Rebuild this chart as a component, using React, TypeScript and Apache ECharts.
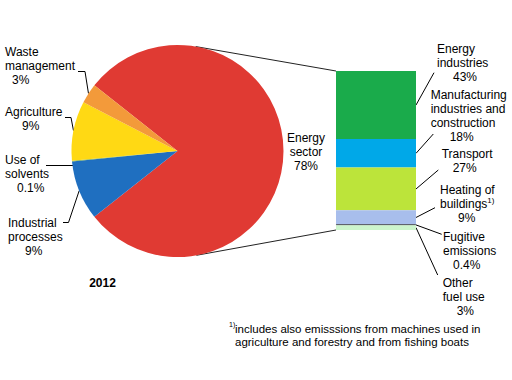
import React, { useEffect, useRef } from "react";
import * as echarts from "echarts";

// ---- Data ----
const pieNames = ["Energy sector", "Industrial processes", "Use of solvents", "Agriculture", "Waste management"];
const pieLabelLines = [["Energy", "sector"], ["Industrial", "processes"], ["Use of", "solvents"], ["Agriculture"], ["Waste", "management"]];
const pieValues = [78, 9, 0.1, 9, 3];
const pieValueLabels = ["78%", "9%", "0.1%", "9%", "3%"];
const pieColors = ["#E03A33", "#1F6FC0", "#6FA850", "#FFD914", "#F39A3A"];

const barNames = ["Energy industries", "Manufacturing industries and construction", "Transport", "Heating of buildings", "Fugitive emissions", "Other fuel use"];
const barLabelLines = [["Energy", "industries"], ["Manufacturing", "industries and", "construction"], ["Transport"], ["Heating of", "buildings"], ["Fugitive", "emissions"], ["Other", "fuel use"]];
const barValues = [43, 18, 27, 9, 0.4, 3];
const barValueLabels = ["43%", "18%", "27%", "9%", "0.4%", "3%"];
const barColors = ["#1AAB4B", "#00A8E8", "#BCE43A", "#A8BEEC", "#000000", "#CCF5CC"];

const yearLabel = "2012";
const footnoteMark = "1)";
const footnoteText = "includes also emisssions from machines used in\nagriculture and forestry and from fishing boats";

// ---- Layout ----
const FONT = '"Liberation Sans", Arial, sans-serif';
const PIE = { cx: 177.5, cy: 151, r: 106 };
const GRID = { left: 336, top: 71, width: 80, height: 159 };

const pieLabelLayout: any[] = [
  { x: 306, y: 152, align: "center", indent: 0 },
  { x: 8, y: 236.5, align: "left", indent: 17, line: [[68.5, 222.5], [63, 222.5]] },
  { x: 5, y: 174, align: "left", indent: 12, start: [73.5, 165.5], line: [[46, 165.5], [46, 165.5]] },
  { x: 5, y: 118.7, align: "left", indent: 17, line: [[71, 117.5], [65, 117.5]] },
  { x: 5, y: 66, align: "left", indent: 7, line: [[85, 71.5], [78, 71.5]] },
];

const barLabelLayout = [
  { x: 437, y: 62.8, indent: 16, end: [434, 72.7] },
  { x: 430.7, y: 115.5, indent: 19, end: [433.3, 134] },
  { x: 441.7, y: 161, indent: 11, end: [438.3, 170] },
  { x: 440, y: 203.7, indent: 18, end: [435, 207.7] },
  { x: 443, y: 250.8, indent: 10, end: [441.7, 234.3] },
  { x: 442.7, y: 296.5, indent: 14, end: [437.7, 275] },
];

const textBase = { fontFamily: FONT, fontSize: 12, lineHeight: 14, color: "#000" };

export default function App() {
  const ref = useRef<HTMLDivElement>(null);

  useEffect(() => {
    document.body.style.margin = "0";
    if (!ref.current) return;
    const chart = echarts.init(ref.current, null, { renderer: "svg" });

    const pieTotal = pieValues.reduce((a, b) => a + b, 0);
    const energyDeg = (pieValues[0] / pieTotal) * 360;
    const startAngle = energyDeg / 2;

    // mid-angle anchor on the pie's edge for each slice (ECharts clockwise from startAngle)
    const anchors: number[][] = [];
    let acc = startAngle;
    pieValues.forEach((v) => {
      const deg = (v / pieTotal) * 360;
      const mid = ((acc - deg / 2) * Math.PI) / 180;
      anchors.push([PIE.cx + PIE.r * Math.cos(mid), PIE.cy - PIE.r * Math.sin(mid)]);
      acc -= deg;
    });

    const pieData = pieValues.map((v, i) => {
      const L = pieLabelLayout[i];
      const rich = {
        t: { ...textBase },
        p: { ...textBase, padding: [0, 0, 0, L.indent] },
      };
      return {
        value: v,
        name: pieNames[i],
        itemStyle: { color: pieColors[i] },
        label: {
          position: i === 0 ? "inside" : "outside",
          formatter: pieLabelLines[i].map((l) => `{t|${l}}`).join("\n") + `\n{p|${pieValueLabels[i]}}`,
          rich,
        },
        labelLine: { show: i !== 0 },
      };
    });

    const barSeries = barValues.map((v, i) => {
      const L = barLabelLayout[i];
      const lines = barLabelLines[i].map((l, k) =>
        i === 3 && k === barLabelLines[i].length - 1 ? `{t|${l}}{sup|${footnoteMark}}` : `{t|${l}}`
      );
      return {
        type: "bar",
        name: barNames[i],
        stack: "energy",
        data: [v],
        barWidth: "100%",
        itemStyle: {
          color: barColors[i],
          borderColor: i === 4 ? "#000" : undefined,
          borderWidth: i === 4 ? 0.4 : 0,
        },
        label: {
          show: true,
          position: "right",
          formatter: lines.join("\n") + `\n{p|${barValueLabels[i]}}`,
          rich: {
            t: { ...textBase },
            sup: { fontFamily: FONT, fontSize: 8, lineHeight: 14, color: "#000", verticalAlign: "top", padding: [0, 0, 6, 0] },
            p: { ...textBase, padding: [0, 0, 0, L.indent] },
          },
        },
        labelLayout: () => ({ x: L.x, y: L.y, align: "left", verticalAlign: "middle" }),
        emphasis: { disabled: true },
      };
    });

    chart.setOption({
      animation: false,
      grid: { left: GRID.left, top: GRID.top, width: GRID.width, height: GRID.height },
      xAxis: { type: "category", data: [yearLabel], show: false },
      yAxis: { type: "value", min: 0, max: barValues.reduce((a, b) => a + b, 0), inverse: true, show: false },
      series: [
        {
          type: "pie",
          center: [PIE.cx, PIE.cy],
          radius: PIE.r,
          startAngle,
          clockwise: true,
          avoidLabelOverlap: false,
          silent: true,
          data: pieData,
          label: { color: "#000", fontFamily: FONT, fontSize: 12 },
          labelLine: { lineStyle: { color: "#000", width: 1 } },
          labelLayout: (params: any) => {
            const i = params.dataIndex;
            const L = pieLabelLayout[i];
            const res: any = { x: L.x, y: L.y, align: L.align, verticalAlign: "middle" };
            if (L.line) {
              const a = L.start || anchors[i];
              res.labelLinePoints = [a, L.line[0], L.line[1]];
            }
            return res;
          },
        },
        ...barSeries,
      ],
    });

    // leader lines from the bar and connecting lines from the pie
    const right = GRID.left + GRID.width;
    const graphics: any[] = [];
    let cum = 0;
    barValues.forEach((v, i) => {
      const y = chart.convertToPixel({ yAxisIndex: 0 }, cum + v / 2) as number;
      cum += v;
      graphics.push({
        type: "polyline",
        shape: { points: [[right, y], barLabelLayout[i].end] },
        style: { stroke: "#000", lineWidth: 1, fill: null },
        silent: true,
      });
    });
    const yTop = chart.convertToPixel({ yAxisIndex: 0 }, 0) as number;
    const yBot = chart.convertToPixel({ yAxisIndex: 0 }, cum) as number;
    const tangent = (px: number, py: number, upper: boolean) => {
      const dx = px - PIE.cx;
      const dy = PIE.cy - py;
      const d = Math.sqrt(dx * dx + dy * dy);
      const th = Math.atan2(dy, dx);
      const ph = Math.acos(PIE.r / d);
      const a = upper ? th + ph : th - ph;
      return [PIE.cx + PIE.r * Math.cos(a), PIE.cy - PIE.r * Math.sin(a)];
    };
    const t1 = tangent(GRID.left, yTop, true);
    const t2 = tangent(GRID.left, yBot, false);
    graphics.push(
      { type: "line", shape: { x1: t1[0], y1: t1[1], x2: GRID.left, y2: yTop }, style: { stroke: "#222", lineWidth: 1 }, silent: true },
      { type: "line", shape: { x1: t2[0], y1: t2[1], x2: GRID.left, y2: yBot }, style: { stroke: "#222", lineWidth: 1 }, silent: true },
      {
        type: "text",
        x: 102.5,
        y: 283,
        style: { text: yearLabel, font: `bold 12px ${FONT}`, fill: "#000", align: "center", verticalAlign: "middle" },
        silent: true,
      },
      {
        type: "text",
        x: 229,
        y: 321,
        style: { text: footnoteMark, font: `7px ${FONT}`, fill: "#000", align: "left", verticalAlign: "top" },
        silent: true,
      },
      {
        type: "text",
        x: 235,
        y: 322,
        style: { text: footnoteText, font: `11.5px ${FONT}`, lineHeight: 13, fill: "#000", align: "left", verticalAlign: "top" },
        silent: true,
      }
    );
    chart.setOption({ graphic: graphics });

    return () => chart.dispose();
  }, []);

  return <div ref={ref} style={{ width: 512, height: 380 }} />;
}
